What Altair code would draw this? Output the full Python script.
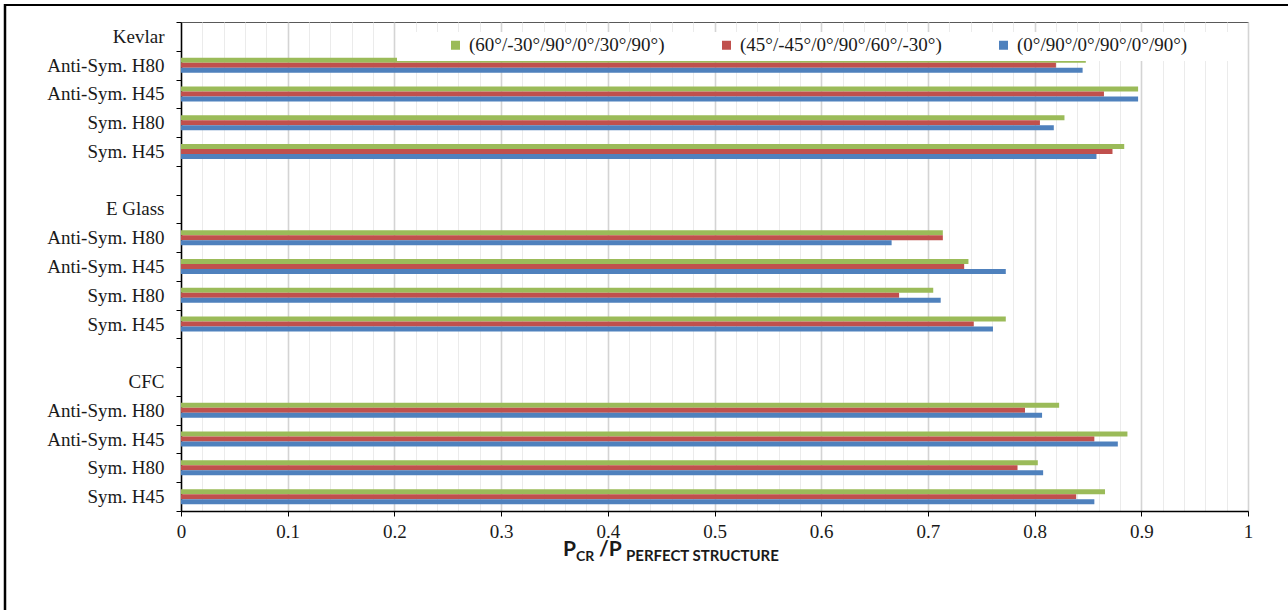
import altair as alt
import pandas as pd

# Laminate stacking sequences (legend order, top bar to bottom bar in each group)
series = ["(60°/-30°/90°/0°/30°/90°)", "(45°/-45°/0°/90°/60°/-30°)", "(0°/90°/0°/90°/0°/90°)"]
colors = ["#9BBB59", "#C0504D", "#4F81BD"]

materials = ["Kevlar", "E Glass", "CFC"]
cases = ["Anti-Sym. H80", "Anti-Sym. H45", "Sym. H80", "Sym. H45"]

# P_cr / P_perfect for each case (order of `cases`)
kevlar_s1 = [0.848, 0.897, 0.828, 0.884]
kevlar_s2 = [0.820, 0.865, 0.805, 0.873]
kevlar_s3 = [0.845, 0.897, 0.818, 0.858]

eglass_s1 = [0.714, 0.738, 0.705, 0.773]
eglass_s2 = [0.714, 0.734, 0.673, 0.743]
eglass_s3 = [0.666, 0.773, 0.712, 0.761]

cfc_s1 = [0.823, 0.887, 0.803, 0.866]
cfc_s2 = [0.791, 0.856, 0.784, 0.839]
cfc_s3 = [0.807, 0.878, 0.808, 0.856]

values_by_material = {
    "Kevlar": [kevlar_s1, kevlar_s2, kevlar_s3],
    "E Glass": [eglass_s1, eglass_s2, eglass_s3],
    "CFC": [cfc_s1, cfc_s2, cfc_s3],
}

# Category keys "group#label": a header row per material, its cases, then a spacer row
row_keys = []
for i, m in enumerate(materials):
    row_keys.append(f"{m}#{m}")
    row_keys.extend(f"{m}#{c}" for c in cases)
    if i < len(materials) - 1:
        row_keys.append(f"{m}#")

records = []
for m in materials:
    for s_name, vals in zip(series, values_by_material[m]):
        for c, v in zip(cases, vals):
            records.append({"row": f"{m}#{c}", "series": s_name, "value": v})
df = pd.DataFrame(records)

grid_values = [i / 50 for i in range(51)]
minor = "round(datum.value * 50) % 5 != 0"

serif = "Liberation Serif"
ink = "#1a1a1a"

bars = alt.Chart(df).mark_bar().encode(
    x=alt.X(
        "value:Q",
        scale=alt.Scale(domain=[0, 1], nice=False, zero=True),
        axis=alt.Axis(
            values=grid_values,
            grid=True,
            gridColor={"condition": {"test": minor, "value": "#ebebeb"}, "value": "#d4d4d4"},
            gridWidth={"condition": {"test": minor, "value": 1}, "value": 1.6},
            tickOpacity={"condition": {"test": minor, "value": 0}, "value": 1},
            labelExpr=f"{minor} ? '' : format(datum.value, '.1~f')",
            labelOverlap=False,
            labelFlush=False,
            labelFont=serif,
            labelFontSize=19,
            labelColor=ink,
            labelPadding=6,
            tickSize=5,
            tickColor="black",
            domainColor="black",
            domainWidth=1.5,
            title=None,
        ),
    ),
    y=alt.Y(
        "row:N",
        scale=alt.Scale(domain=row_keys, paddingInner=0, paddingOuter=0),
        axis=alt.Axis(
            labelExpr="split(datum.value, '#')[1]",
            tickBand="extent",
            tickSize=5,
            tickColor="black",
            domainColor="black",
            domainWidth=1.5,
            labelFont=serif,
            labelFontSize=19,
            labelColor=ink,
            labelPadding=12,
            grid=False,
            title=None,
        ),
    ),
    yOffset=alt.YOffset(
        "series:N",
        scale=alt.Scale(domain=series, range=[6.9, 21.9], paddingInner=0, paddingOuter=0),
    ),
    color=alt.Color(
        "series:N",
        scale=alt.Scale(domain=series, range=colors),
        title=None,
        legend=alt.Legend(
            orient="none",
            legendX=265,
            legendY=13.5,
            direction="horizontal",
            symbolType="square",
            symbolSize=81,
            symbolStrokeWidth=0,
            labelFont=serif,
            labelFontSize=19,
            labelColor=ink,
            labelOffset=4,
            labelLimit=400,
            columnPadding=52,
            padding=0,
        ),
    ),
)

one = alt.Data(values=[{}])

# White backing of the legend band
legend_box = alt.Chart(one).mark_rect(color="white").encode(
    x=alt.value(216), x2=alt.value(1057), y=alt.value(10), y2=alt.value(39)
)

# Axis title with subscripts: P_CR / P_PERFECT STRUCTURE
title_font = "Lato"
t_p1 = alt.Chart(one).mark_text(font=title_font, fontWeight="bold", fontSize=21, align="left", baseline="alphabetic", color=ink).encode(
    text=alt.value("P"), x=alt.value(382), y=alt.value(534))
t_sub1 = alt.Chart(one).mark_text(font=title_font, fontWeight="bold", fontSize=14, align="left", baseline="alphabetic", color=ink).encode(
    text=alt.value("CR"), x=alt.value(395), y=alt.value(539))
t_p2 = alt.Chart(one).mark_text(font=title_font, fontWeight="bold", fontSize=21, align="left", baseline="alphabetic", color=ink).encode(
    text=alt.value("/P"), x=alt.value(418), y=alt.value(534))
t_sub2 = alt.Chart(one).mark_text(font=title_font, fontWeight="bold", fontSize=15, align="left", baseline="alphabetic", color=ink).encode(
    text=alt.value("PERFECT STRUCTURE"), x=alt.value(445), y=alt.value(539))

# Outer frame (left and top edges)
frame_left = alt.Chart(one).mark_rule(color="black", strokeWidth=2.5).encode(
    x=alt.value(-176), y=alt.value(-18), y2=alt.value(590))
frame_top = alt.Chart(one).mark_rule(color="black", strokeWidth=2).encode(
    x=alt.value(-177), x2=alt.value(1107), y=alt.value(-17))

chart = alt.layer(
    bars, legend_box, t_p1, t_sub1, t_p2, t_sub2, frame_left, frame_top
).properties(
    width=1067,
    height=489,
    autosize=alt.AutoSizeParams(type="none"),
    padding={"left": 181, "top": 22, "right": 40, "bottom": 99},
    background="white",
).configure_view(stroke="#595959", strokeWidth=1)

chart.save("out.html", embed_options={"renderer": "svg", "actions": False})
